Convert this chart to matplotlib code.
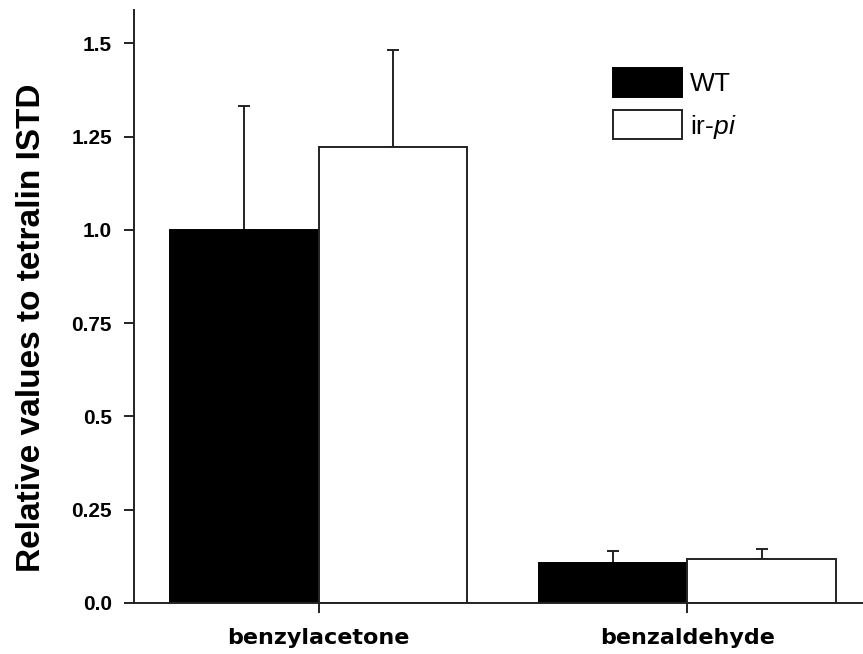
import matplotlib
matplotlib.use("Agg")
import matplotlib.pyplot as plt
import numpy as np

# data
compounds = ["benzylacetone", "benzaldehyde"]
wt_mean = [1.0, 0.106]
wt_err = [0.333, 0.033]
irpi_mean = [1.223, 0.119]
irpi_err = [0.258, 0.025]
ytick_vals = [0.0, 0.25, 0.5, 0.75, 1.0, 1.25, 1.5]
ytick_labels = ["0.0", "0.25", "0.5", "0.75", "1.0", "1.25", "1.5"]

plt.rcParams["font.family"] = ["Liberation Sans", "DejaVu Sans"]
plt.rcParams["mathtext.fontset"] = "custom"
plt.rcParams["mathtext.it"] = "Liberation Sans:italic"
plt.rcParams["mathtext.rm"] = "Liberation Sans"

fig = plt.figure(figsize=(8.63, 6.54), dpi=100)
ax = fig.add_axes([0.1555, 0.078, 0.8445, 0.907])

x = np.arange(len(compounds))
width = 0.402
lw = 1.4

ax.bar(x - width / 2, wt_mean, width, color="black", edgecolor="black",
       linewidth=lw, label="WT", zorder=2)
ax.bar(x + width / 2, irpi_mean, width, color="white", edgecolor="#222222",
       linewidth=lw, label="ir-$\\it{pi}$", zorder=2)
ax.errorbar(x - width / 2, wt_mean, yerr=[np.zeros(len(x)), wt_err], fmt="none",
            ecolor="#222222", elinewidth=lw, capsize=4.5, capthick=lw, zorder=1)
ax.errorbar(x + width / 2, irpi_mean, yerr=[np.zeros(len(x)), irpi_err], fmt="none",
            ecolor="#222222", elinewidth=lw, capsize=4.5, capthick=lw, zorder=1)

ax.set_xlim(-0.5, 1.476)
ax.set_ylim(0, 1.59)
ax.set_xticks(x)
ax.set_xticklabels(compounds, fontsize=16, fontweight="bold",
                   family=["DejaVu Sans"])
ax.set_yticks(ytick_vals)
ax.set_yticklabels(ytick_labels, fontsize=15, fontweight="bold")
ax.tick_params(axis="both", direction="out", length=7, width=lw, color="#222222")
ax.tick_params(axis="y", pad=9)
ax.tick_params(axis="x", pad=11)

for side in ["top", "right"]:
    ax.spines[side].set_visible(False)
for side in ["left", "bottom"]:
    ax.spines[side].set_linewidth(lw)
    ax.spines[side].set_color("#222222")

ax.set_ylabel("Relative values to tetralin ISTD", fontsize=24, fontweight="bold")
ax.yaxis.set_label_coords(-0.12, 0.464)

ax.legend(loc="upper left", bbox_to_anchor=(0.657, 0.9026), frameon=False,
          fontsize=19, handlelength=2.6, handleheight=1.33, handletextpad=0.3,
          labelspacing=0.5, borderpad=0, borderaxespad=0)

fig.savefig("out.png", dpi=100)
